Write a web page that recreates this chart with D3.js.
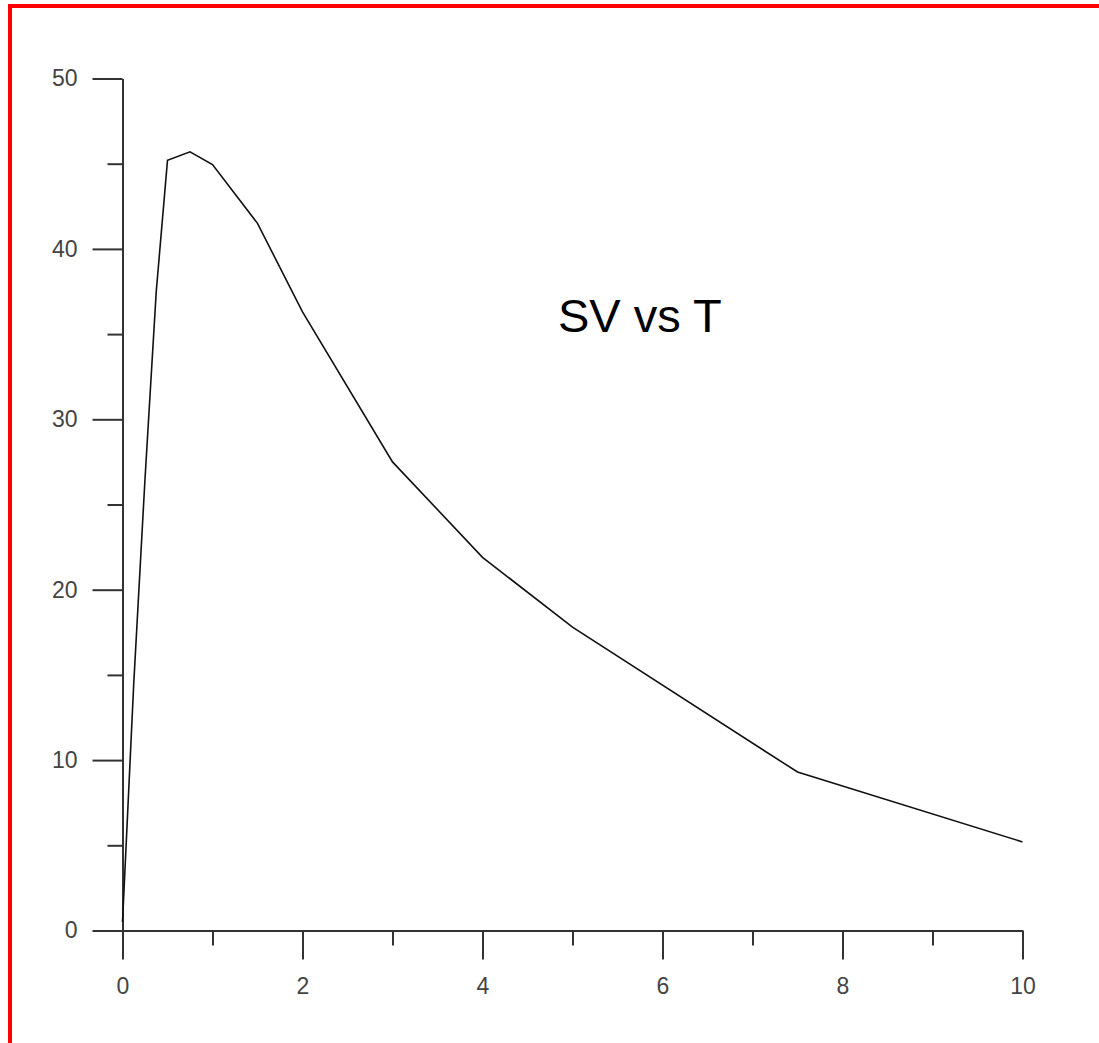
<!DOCTYPE html>
<html>
<head>
<meta charset="utf-8">
<script src="https://cdn.jsdelivr.net/npm/d3@7"></script>
<style>
  html, body { margin: 0; padding: 0; background: #fff; }
  svg { display: block; overflow: hidden; }
</style>
</head>
<body>
<script>
// Data
const times = [0, 0.125, 0.25, 0.375, 0.5, 0.75, 1, 1.5, 2, 3, 4, 5, 7.5, 10];
const svValues = [0.5, 14.5, 26.5, 37.5, 45.2, 45.7, 44.95, 41.5, 36.3, 27.5, 21.9, 17.8, 9.3, 5.2];
const xMajorTicks = [0, 2, 4, 6, 8, 10];
const xMinorTicks = [1, 3, 5, 7, 9];
const yMajorTicks = [0, 10, 20, 30, 40, 50];
const yMinorTicks = [5, 15, 25, 35, 45];
const titleText = "SV vs T";

const W = 1099, H = 1043;
const svg = d3.select("body").append("svg").attr("width", W).attr("height", H);

// red frame (extends past the right/bottom edges)
svg.append("rect")
  .attr("x", 10).attr("y", 6).attr("width", 1200).attr("height", 1200)
  .attr("fill", "none").attr("stroke", "#ff0000").attr("stroke-width", 4);

const x = d3.scaleLinear().domain([0, 10]).range([122.5, 1022.5]);
const y = d3.scaleLinear().domain([0, 50]).range([930.5, 78.5]);

const axisColor = "#333";
const fontFam = "'Liberation Sans', Arial, Helvetica, sans-serif";

function styleAxis(g) {
  g.selectAll("path.domain").attr("stroke", axisColor).attr("stroke-width", 2);
  g.selectAll(".tick line").attr("stroke", axisColor).attr("stroke-width", 2);
  g.selectAll("text").attr("fill", "#444").style("font-family", fontFam).style("font-size", "23px");
}

// Y axis: minor then major
const yMinorG = svg.append("g").attr("transform", `translate(${x(0)},0)`)
  .call(d3.axisLeft(y).tickValues(yMinorTicks).tickSize(15).tickSizeOuter(0).tickFormat(""));
styleAxis(yMinorG);
const yMajorG = svg.append("g").attr("transform", `translate(${x(0)},0)`)
  .call(d3.axisLeft(y).tickValues(yMajorTicks).tickSize(30).tickSizeOuter(0).tickPadding(15).tickFormat(d3.format("d")));
styleAxis(yMajorG);

// X axis
const xMinorG = svg.append("g").attr("transform", `translate(0,${y(0)})`)
  .call(d3.axisBottom(x).tickValues(xMinorTicks).tickSize(15).tickSizeOuter(0).tickFormat(""));
styleAxis(xMinorG);
const xMajorG = svg.append("g").attr("transform", `translate(0,${y(0)})`)
  .call(d3.axisBottom(x).tickValues(xMajorTicks).tickSize(29).tickSizeOuter(0).tickPadding(18).tickFormat(d3.format("d")));
styleAxis(xMajorG);

// Line
const line = d3.line().x((d, i) => x(times[i])).y(d => y(d));
svg.append("path")
  .datum(svValues)
  .attr("d", line)
  .attr("fill", "none")
  .attr("stroke", "#111")
  .attr("stroke-width", 1.6)
  .attr("stroke-linejoin", "miter");

// Title
svg.append("text")
  .attr("x", 558).attr("y", 332)
  .attr("fill", "#000")
  .style("font-family", fontFam)
  .style("font-size", "47px")
  .text(titleText);
</script>
</body>
</html>
